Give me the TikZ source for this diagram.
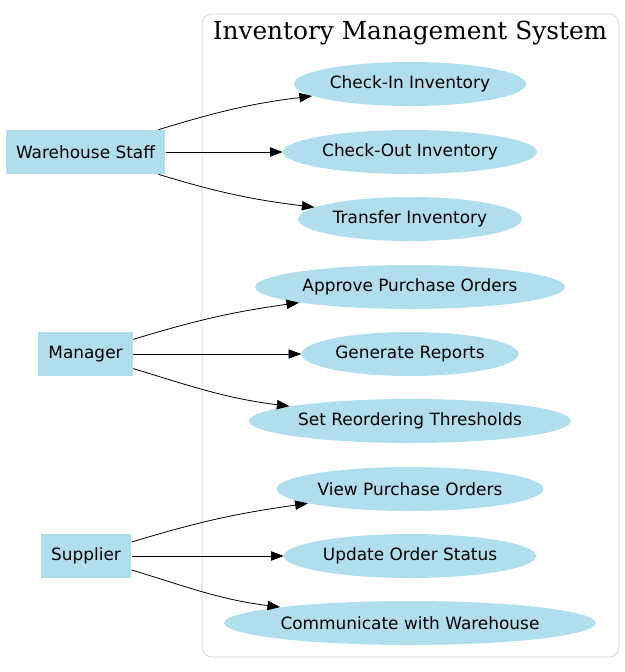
\documentclass[tikz,border=0pt]{standalone}
\usepackage{fontspec}
\setmainfont{DejaVu Sans}
\newfontfamily\titlefont{DejaVu Serif}
\usetikzlibrary{shapes.geometric,arrows.meta}
\definecolor{actorblue}{HTML}{B0DEEC}

\begin{document}
\begin{tikzpicture}[x=0.75pt,y=-0.75pt,
  actor/.style={rectangle,fill=actorblue,minimum height=33pt,inner xsep=7.8pt,font=\fontsize{12.7}{15}\selectfont},
  usecase/.style={ellipse,fill=actorblue,minimum height=33pt,inner xsep=1.5pt,font=\fontsize{12.7}{15}\selectfont},
  flow/.style={-{Triangle[length=9.5pt,width=7pt]},line width=0.6pt}]
\useasboundingbox (0,0) rectangle (625,672);

\draw[gray!40,rounded corners=7.5pt] (202,14) rectangle (619,657);
\node (title) at (410,33) {\titlefont\fontsize{18.6}{22}\selectfont Inventory Management System};

\node[actor] (staff) at (85.5,152) {Warehouse Staff};
\node[actor] (manager) at (85.5,354) {Manager};
\node[actor] (supplier) at (86,556) {Supplier};

\node[usecase] (checkin) at (410,84) {Check-In Inventory};
\node[usecase] (checkout) at (410,152) {Check-Out Inventory};
\node[usecase] (transfer) at (410,219) {Transfer Inventory};
\node[usecase] (approve) at (410,287) {Approve Purchase Orders};
\node[usecase] (reports) at (410,354) {Generate Reports};
\node[usecase] (reorder) at (410,421) {Set Reordering Thresholds};
\node[usecase] (viewpo) at (410,489) {View Purchase Orders};
\node[usecase] (status) at (410,556) {Update Order Status};
\node[usecase] (comm) at (410,623) {Communicate with Warehouse};

\draw[flow] (staff) to[out=17,in=187] (checkin);
\draw[flow] (staff) -- (checkout);
\draw[flow] (staff) to[out=-17,in=173] (transfer);

\draw[flow] (manager) to[out=17,in=188] (approve);
\draw[flow] (manager) -- (reports);
\draw[flow] (manager) to[out=-17,in=173] (reorder);

\draw[flow] (supplier) to[out=17,in=188] (viewpo);
\draw[flow] (supplier) -- (status);
\draw[flow] (supplier) to[out=-17,in=173] (comm);

\end{tikzpicture}
\end{document}
